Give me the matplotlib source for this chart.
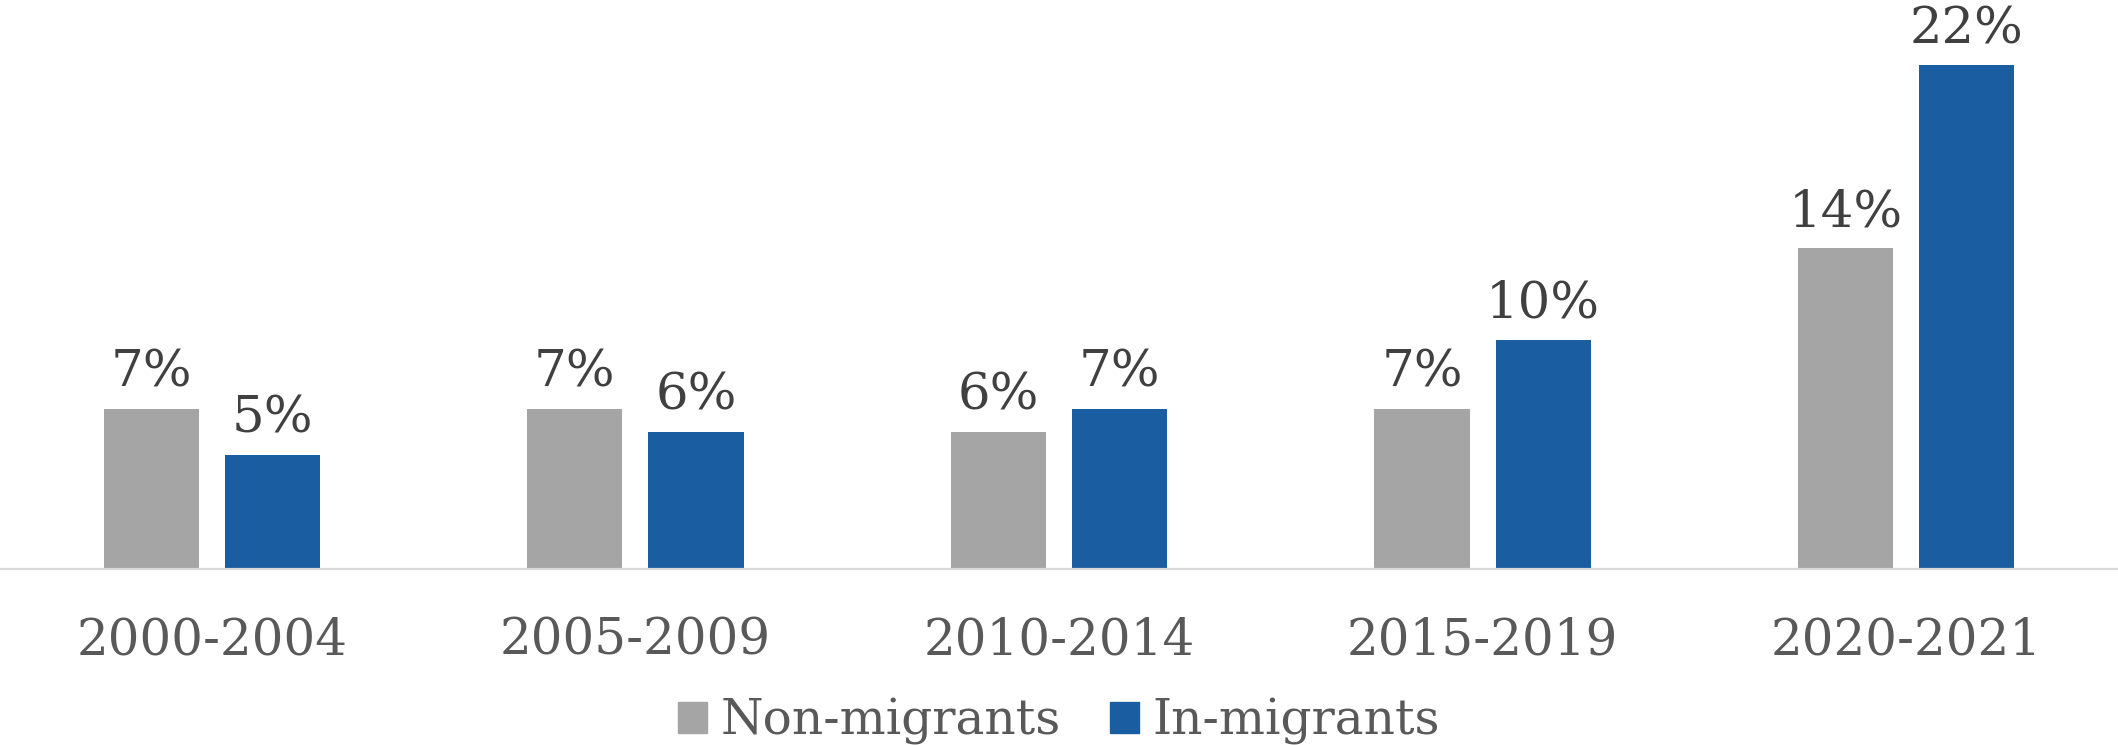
import matplotlib.pyplot as plt
import matplotlib.patches as mpatches
import numpy as np

periods = ['2000-2004', '2005-2009', '2010-2014', '2015-2019', '2020-2021']
non_migrants = [7, 7, 6, 7, 14]
in_migrants = [5, 6, 7, 10, 22]
series_names = ['Non-migrants', 'In-migrants']

GRAY = '#A5A5A5'
BLUE = '#1A5DA0'

plt.rcParams['font.family'] = ['DejaVu Serif']

fig = plt.figure(figsize=(21.18, 7.45), dpi=100)
ax = fig.add_axes([0, 0.2362, 1, 0.7638])

x = np.arange(len(periods))
w = 0.225
off = 0.143
b1 = ax.bar(x - off, non_migrants, w, color=GRAY)
b2 = ax.bar(x + off, in_migrants, w, color=BLUE)

# percentage labels above each bar
for bars, vals in ((b1, non_migrants), (b2, in_migrants)):
    for rect, v in zip(bars, vals):
        ax.annotate(f'{v}%', (rect.get_x() + rect.get_width() / 2, v),
                    xytext=(0, 16), textcoords='offset points',
                    ha='center', va='baseline', fontsize=37, color='#404040')

ax.set_xlim(-0.5, len(periods) - 0.5)
ax.set_ylim(0, 24.85)
ax.set_yticks([])
ax.set_xticks(x)
ax.set_xticklabels(periods, fontsize=36, color='#595959')
ax.tick_params(axis='x', length=0, pad=34)
for s in ('top', 'left', 'right'):
    ax.spines[s].set_visible(False)
ax.spines['bottom'].set_color('#D9D9D9')
ax.spines['bottom'].set_linewidth(1.6)

handles = [mpatches.Patch(color=GRAY, label=series_names[0]),
           mpatches.Patch(color=BLUE, label=series_names[1])]
leg = fig.legend(handles=handles, loc='lower center', bbox_to_anchor=(0.5, 0.0),
                 ncol=2, frameon=False, fontsize=35, handlelength=0.6,
                 handleheight=0.6, handletextpad=0.28, columnspacing=1.0,
                 borderpad=0, borderaxespad=0)
for t in leg.get_texts():
    t.set_color('#595959')

fig.savefig('out.png', dpi=100)
